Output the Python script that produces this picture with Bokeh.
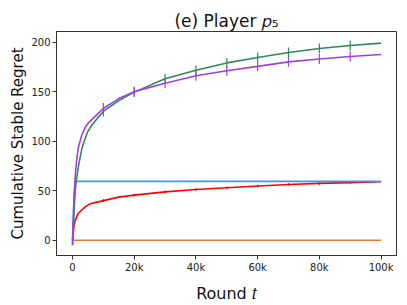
from bokeh.plotting import figure
from bokeh.models import Range1d, FixedTicker
from bokeh.embed import file_html
from bokeh.resources import INLINE

# ---- data ----
rounds = [0, 500, 1000, 1500, 2000, 3000, 4000, 5000, 6000, 8000, 10000, 15000,
          20000, 30000, 40000, 50000, 60000, 70000, 80000, 90000, 100000]
green = [-5, 30, 55, 66, 76, 92, 102, 110, 115, 123, 130, 141,
         149.5, 163, 171.5, 179, 184.5, 189.5, 193.5, 196.5, 199]
purple = [-4.5, 45, 70, 85, 95, 106, 113, 118, 121, 127, 133, 143,
          150, 158.5, 166, 171, 175.5, 180, 183, 185.5, 187.5]
blue = [0, 40, 59.5, 59.5, 59.5, 59.5, 59.5, 59.5, 59.5, 59.5, 59.5, 59.5,
        59.5, 59.5, 59.5, 59.5, 59.5, 59.5, 59.5, 59.5, 59.5]
red = [0, 15, 21, 25, 27.5, 30.5, 33.5, 35.5, 37, 38.5, 40, 43.5,
       45.5, 48.8, 51.2, 53, 54.8, 56.3, 57.4, 58.2, 59]
orange = [0] * len(rounds)

err_rounds = [10000, 20000, 30000, 40000, 50000, 60000, 70000, 80000, 90000]
green_err_mean = [130, 149.5, 163, 171.5, 179, 184.5, 189.5, 193.5, 196.5]
green_err = [5, 5, 5, 5, 5, 5, 5, 5, 5]
purple_err_mean = [133, 150, 158.5, 166, 171, 175.5, 180, 183, 185.5]
purple_err = [5.5, 5, 5, 5, 5, 5, 5, 5, 5]
red_err_mean = [40, 45.5, 48.8, 51.2, 53, 54.8, 56.3, 57.4, 58.2]
red_err = [1.3, 1.3, 1.3, 1.3, 1.3, 1.3, 1.3, 1.3, 1.3]

xticks = [0, 20000, 40000, 60000, 80000, 100000]
xtick_labels = ["0", "20k", "40k", "60k", "80k", "100k"]
yticks = [0, 50, 100, 150, 200]

title_text = "(e) Player \U0001D45D\u2085"
xlabel = "Round \U0001D461"
ylabel = "Cumulative Stable Regret"

C_GREEN = "#2e8b57"
C_PURPLE = "#a040e0"
C_BLUE = "#3399ff"
C_RED = "#ff0000"
C_ORANGE = "#e07b39"

FONT = "DejaVu Sans"

p = figure(width=407, height=305, output_backend="svg", toolbar_location=None,
           x_range=Range1d(-5190, 105000), y_range=Range1d(-15.4, 210.7),
           min_border_left=56, min_border_right=11, min_border_top=31,
           min_border_bottom=47)
p.title.text = title_text
p.title.align = "center"
p.title.text_font = FONT
p.title.text_font_size = "17px"
p.title.text_font_style = "normal"
p.title.text_color = "#111111"
p.title.standoff = 2
p.xgrid.visible = False
p.ygrid.visible = False
p.outline_line_color = "#333333"
p.outline_line_width = 1
p.outline_line_alpha = 1
p.background_fill_color = "white"
p.border_fill_color = "white"

for ax in (p.xaxis[0], p.yaxis[0]):
    ax.axis_line_color = "#333333"
    ax.major_tick_line_color = "#333333"
    ax.major_tick_out = 4
    ax.major_tick_in = 0
    ax.minor_tick_line_color = None
    ax.major_label_text_font = FONT
    ax.major_label_text_font_size = "10px"
    ax.major_label_text_color = "#222222"
    ax.major_label_standoff = 2
    ax.axis_label_text_font = FONT
    ax.axis_label_text_font_style = "normal"
    ax.axis_label_text_color = "#111111"

p.xaxis[0].ticker = FixedTicker(ticks=xticks)
p.xaxis[0].major_label_overrides = {t: l for t, l in zip(xticks, xtick_labels)}
p.xaxis[0].axis_label = xlabel
p.xaxis[0].axis_label_text_font_size = "16px"
p.xaxis[0].axis_label_standoff = 8
p.yaxis[0].ticker = FixedTicker(ticks=yticks)
p.yaxis[0].axis_label = ylabel
p.yaxis[0].axis_label_text_font_size = "15px"
p.yaxis[0].axis_label_standoff = 1

LW = 1.6
p.line(rounds, orange, line_color=C_ORANGE, line_width=LW)
p.line(rounds, red, line_color=C_RED, line_width=LW)
p.segment(err_rounds, [m - e for m, e in zip(red_err_mean, red_err)],
          err_rounds, [m + e for m, e in zip(red_err_mean, red_err)],
          line_color=C_RED, line_width=1.3)
p.line(rounds, blue, line_color=C_BLUE, line_width=1.8)
p.line(rounds, green, line_color=C_GREEN, line_width=LW)
p.segment(err_rounds, [m - e for m, e in zip(green_err_mean, green_err)],
          err_rounds, [m + e for m, e in zip(green_err_mean, green_err)],
          line_color=C_GREEN, line_width=1.2)
p.line(rounds, purple, line_color=C_PURPLE, line_width=LW)
p.segment(err_rounds, [m - e for m, e in zip(purple_err_mean, purple_err)],
          err_rounds, [m + e for m, e in zip(purple_err_mean, purple_err)],
          line_color=C_PURPLE, line_width=1.2)

open("out.html", "w").write(file_html(p, INLINE))
